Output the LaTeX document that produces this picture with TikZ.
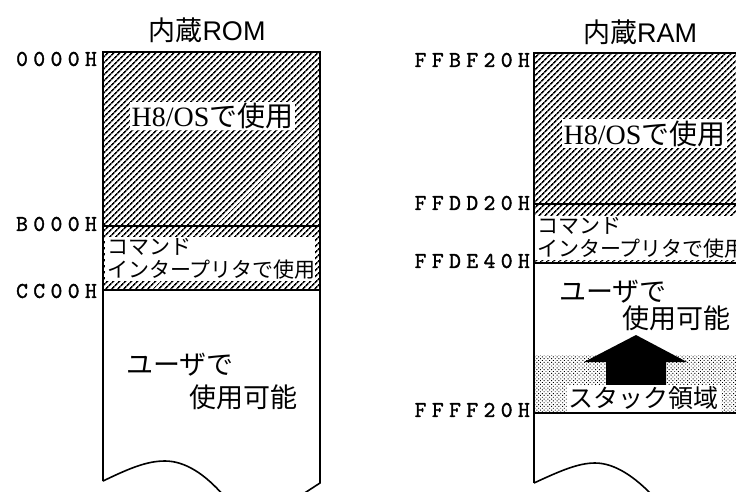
\documentclass[tikz,border=0pt]{standalone}
\usepackage{fontspec}
\setmainfont{Liberation Serif}
\newfontfamily\jpfont{Noto Sans CJK JP}
\newfontfamily\titlesans{Liberation Sans}
\newfontfamily\addrfont{lmmono10-regular}[Extension=.otf,LetterSpace=24,FakeBold=1.5]
\usetikzlibrary{patterns.meta}
\tikzset{
  memline/.style={line width=1.6pt},
  hatch/.style={pattern={Lines[angle=45,distance=4pt,line width=1.7pt]}},
  stackdots/.style={pattern={Dots[angle=45,distance=2.6pt,radius=0.65pt]}},
  addr/.style={anchor=east,inner sep=0pt,font=\addrfont\fontsize{22.5}{22.5}\selectfont},
  maptitle/.style={inner sep=0pt,font=\fontsize{27}{27}\selectfont},
  whitelabel/.style={fill=white,inner xsep=2pt,inner ysep=1.5pt},
  oslabel/.style={whitelabel,font=\fontsize{28}{28}\selectfont},
  cmdlabel/.style={whitelabel,anchor=west,align=left,font=\jpfont\fontsize{21}{22.5}\selectfont},
  biglabel/.style={inner sep=0pt,anchor=west,font=\jpfont\fontsize{27}{27}\selectfont}
}
\begin{document}
\begin{tikzpicture}[x=1pt,y=-1pt]
  \useasboundingbox (0,0) rectangle (736,491);
  \clip (0,0) rectangle (736,491);
  % 内蔵ROM
  \path[hatch] (103,52) rectangle (320,290);
  \draw[memline] (103,226) -- (320,226);
  \draw[memline] (103,290) -- (320,290);
  \draw[memline] (103,481) -- (103,52) -- (320,52) -- (320,483) -- (300,496);
  \draw[memline] (103,481) .. controls (130,468) and (147,461) .. (165,461)
    .. controls (185,461) and (205,474) .. (224,496);
  \node[maptitle] (romtitle) at (207,30) {{\jpfont 内蔵}{\titlesans ROM}};
  \node[oslabel] (romos) at (212.5,116) {H8/OS{\jpfont で使用}};
  \node[cmdlabel,text width=206pt] (romcmd) at (105,259) {コマンド\\インタープリタで使用};
  \node[biglabel] (romuser) at (126,365) {ユーザで};
  \node[biglabel] (romfree) at (189,397) {使用可能};
  % ROMのアドレス
  \node[addr] (a0000) at (97,59) {0000H};
  \node[addr] (ab000) at (97,224) {B000H};
  \node[addr] (acc00) at (97,291) {CC00H};
  % 内蔵RAM
  \path[hatch] (534,53) rectangle (760,263);
  \path[stackdots] (534,355) rectangle (760,413);
  \draw[memline] (534,204) -- (760,204);
  \draw[memline] (534,263) -- (760,263);
  \draw[memline] (534,413) -- (760,413);
  \draw[memline] (534,483) -- (534,53) -- (760,53);
  \draw[memline] (534,483) .. controls (560,471) and (578,463) .. (595,463)
    .. controls (615,463) and (635,477) .. (654,497);
  \node[maptitle] (ramtitle) at (640,32) {{\jpfont 内蔵}{\titlesans RAM}};
  \node[oslabel] (ramos) at (644.5,133.5) {H8/OS{\jpfont で使用}};
  \node[cmdlabel,text width=206pt] (ramcmd) at (535,238) {コマンド\\インタープリタで使用};
  \node[biglabel] (ramuser) at (559,292) {ユーザで};
  \node[biglabel] (ramfree) at (622,318) {使用可能};
  % スタック
  \fill (606,385) -- (606,362) -- (584,362) -- (636,335) -- (687,362)
    -- (666,362) -- (666,385) -- cycle;
  \node[whitelabel,font=\jpfont\fontsize{25}{25}\selectfont] (ramstack) at (643.5,398.5) {スタック領域};
  % RAMのアドレス
  \node[addr] (affbf20) at (530,60) {FFBF20H};
  \node[addr] (affdd20) at (530,203) {FFDD20H};
  \node[addr] (affde40) at (530,261) {FFDE40H};
  \node[addr] (affff20) at (530,410) {FFFF20H};
\end{tikzpicture}
\end{document}
